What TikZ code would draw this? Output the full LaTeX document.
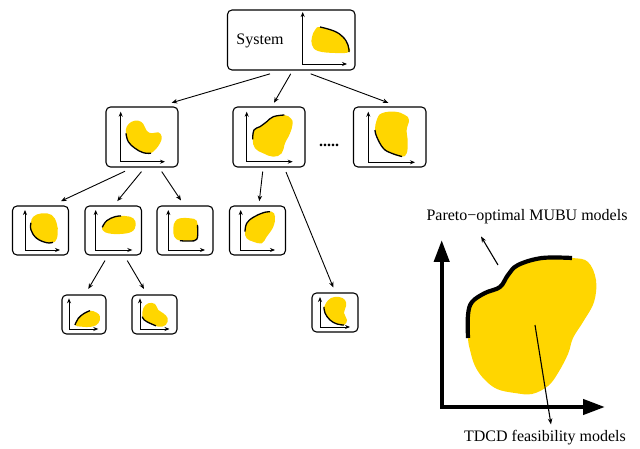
\documentclass[tikz,border=0pt]{standalone}
\usepackage{fontspec}
\setmainfont{Liberation Serif}
\usetikzlibrary{arrows.meta,calc}
\definecolor{blobgold}{RGB}{255,214,0}
\begin{document}
\begin{tikzpicture}[x=1pt,y=-1pt,
  panel/.style={draw,line width=1.1pt,rounded corners=4.5pt,inner sep=0pt},
  link/.style={line width=0.9pt,-{Stealth[length=5.5pt,width=4.5pt]}},
  miniaxes/.style={line width=0.9pt,{Stealth[length=5pt,width=4pt]}-{Stealth[length=5pt,width=4pt]}},
  region/.style={fill=blobgold},
  front/.style={line width=1.3pt,line cap=butt},
  label/.style={font=\fontsize{16}{19}\selectfont,inner sep=0pt},
  bigaxes/.style={line width=4.2pt,{Triangle[length=22pt,width=15pt]}-{Triangle[length=22pt,width=15pt]}},
  ]
\useasboundingbox (0,0) rectangle (640,449);

% ---------- panels ----------
\node[panel,minimum width=127.5pt,minimum height=60pt] (sys) at (291.25,40) {};
\node[label] (systxt) at (260,41) {System};

\node[panel,minimum width=72pt,minimum height=60pt] (b1) at (142,137) {};
\node[panel,minimum width=72pt,minimum height=60pt] (b2) at (269,137) {};
\node[panel,minimum width=72.5pt,minimum height=60pt] (b3) at (389.75,137) {};
\node[label,font=\fontsize{16}{19}\selectfont\bfseries] (more) at (329,145) {.....};

\node[panel,minimum width=56pt,minimum height=49pt] (c1) at (40.5,230.5) {};
\node[panel,minimum width=56.5pt,minimum height=49pt] (c2) at (113.25,230.5) {};
\node[panel,minimum width=56pt,minimum height=49pt] (c3) at (185,230.5) {};
\node[panel,minimum width=56pt,minimum height=49pt] (c4) at (257.5,230.5) {};

\node[panel,minimum width=44pt,minimum height=39pt] (d1) at (84,314.5) {};
\node[panel,minimum width=45pt,minimum height=39pt] (d2) at (154.5,314.5) {};
\node[panel,minimum width=46pt,minimum height=39pt] (d3) at (335,312.5) {};

% ---------- system panel contents ----------
\fill[region] plot[smooth cycle,tension=0.7] coordinates {(320,27) (334,31) (343,37) (348,45) (349,52) (335,53) (318,51) (312,45) (312,37) (315,30)};
\draw[front] plot[smooth,tension=0.7] coordinates {(320,27) (334,31) (343,37) (348,45) (349,52)};
\draw[miniaxes] (302.7,12) -- (302.7,64) -- (347,64);

% ---------- second row ----------
\fill[region] plot[smooth cycle,tension=0.7] coordinates {(126,133.3) (126.7,126.7) (131.7,121.7) (138.3,120.7) (143.3,124) (146.7,130.7) (151.7,133.3) (158.3,132.3) (161.7,136.7) (160,143.3) (155,150) (150,153.3) (143.3,152.7) (135,148.3) (128.3,141.7)};
\draw[front] plot[smooth,tension=0.7] coordinates {(126,133.3) (128.3,141.7) (135,148.3) (143.3,152.7) (151,153.3)};
\draw[miniaxes] (120.7,111.7) -- (120.7,161.7) -- (165,161.7);

\fill[region] plot[smooth cycle,tension=0.7] coordinates {(252.7,139.3) (254,130) (260,126.7) (266.7,121.7) (273.3,116.7) (284.3,115) (290.7,118.3) (292.7,123.3) (290,133.3) (285,143.3) (281.7,153.3) (273.3,156.7) (263.3,153.3) (255,148.3)};
\draw[front] plot[smooth,tension=0.7] coordinates {(252.7,139.3) (254,130) (260,126.7) (266.7,121.7) (273.3,116.7) (284.3,115)};
\draw[miniaxes] (246.7,111.7) -- (246.7,161.7) -- (292.7,161.7);

\fill[region] plot[smooth cycle,tension=0.7] coordinates {(376.7,120) (381.7,113.3) (395,111.7) (405,115) (409,120) (406.7,130) (407.7,141.7) (406.7,153.3) (401.7,156.7) (391.7,153.3) (383.3,148.3) (376.7,136.7) (375,130)};
\draw[front] plot[smooth,tension=0.7] coordinates {(375,130) (376.7,136.7) (383.3,148.3) (391.7,153.3) (402,156.5)};
\draw[miniaxes] (368.3,111.7) -- (368.3,162.3) -- (415,162.3);

% ---------- third row ----------
\fill[region] plot[smooth cycle,tension=0.7] coordinates {(33.3,216.7) (41.7,213.3) (51.7,215) (56.7,223.3) (57.7,233.3) (55,241.7) (46.7,242.7) (36.7,238.3) (31,230) (31,222.7)};
\draw[front] plot[smooth,tension=0.7] coordinates {(31,222.7) (31,230) (36.7,238.3) (46.7,242.7) (53,242.3)};
\draw[miniaxes] (25,210) -- (25,250) -- (60,250);

\fill[region] plot[smooth cycle,tension=0.7] coordinates {(102.3,227.3) (106.7,220.7) (115,216.7) (125,216) (133.3,218.3) (135.7,225) (131.7,231.7) (120,234) (108.3,233.3) (103.3,230.7)};
\draw[front] plot[smooth,tension=0.7] coordinates {(102.3,227.3) (106.7,220.7) (115,216.7) (121,215.9)};
\draw[miniaxes] (95.7,210) -- (95.7,250) -- (132.3,250);

\fill[region] plot[smooth cycle,tension=0.7] coordinates {(175,221.7) (180,218.3) (190,218.3) (196.7,220.7) (197.7,230) (196.7,239.3) (190,241) (180,240.7) (174.3,236.7) (173.3,228.3)};
\draw[front] plot[smooth,tension=0.7] coordinates {(180,240.7) (190,241) (196.7,239.3) (197.7,230) (197.4,225)};
\draw[miniaxes] (168.3,210) -- (168.3,250) -- (205,250);

\fill[region] plot[smooth cycle,tension=0.7] coordinates {(245,231.7) (246.7,223.3) (253.3,217.3) (263.3,212.7) (271.7,211.7) (275,216.7) (273.3,226.7) (266.7,236.7) (261.7,243.3) (253.3,241.7) (246.7,238.3)};
\draw[front] plot[smooth,tension=0.7] coordinates {(245,231.7) (246.7,223.3) (253.3,217.3) (263.3,212.7) (270,211.8)};
\draw[miniaxes] (240.7,210) -- (240.7,250) -- (275,250);

% ---------- fourth row ----------
\fill[region] plot[smooth cycle,tension=0.7] coordinates {(75,325) (78.3,318.3) (84.3,313.3) (90,310.7) (96.7,312.7) (100,316.7) (98.3,323.3) (91.7,326.7) (81.7,326.7)};
\draw[front] plot[smooth,tension=0.7] coordinates {(75,325) (78.3,318.3) (84.3,313.3) (90,310.7)};
\draw[miniaxes] (69,298.3) -- (69,329) -- (98.3,329);

\fill[region] plot[smooth cycle,tension=0.7] coordinates {(142.3,316.7) (143.3,308.3) (148.3,303.3) (155,304) (158.3,310) (163.3,313.3) (167.7,318.3) (165.7,325) (158.3,326.7) (150,323.3) (144.3,320)};
\draw[front] plot[smooth,tension=0.7] coordinates {(142.3,316.7) (144.3,320) (150,323.3) (156,325.8)};
\draw[miniaxes] (140,298.3) -- (140,329) -- (169.5,329);

\fill[region] plot[smooth cycle,tension=0.7] coordinates {(326,303) (331,298) (339,297) (345,300) (346,306) (344,313) (347,320) (344,325) (337,324) (330,320) (325,313) (324,307)};
\draw[front] plot[smooth,tension=0.7] coordinates {(324,307) (325,313) (330,320) (337,324) (344,325)};
\draw[miniaxes] (320,297) -- (320,327) -- (350,327);

% ---------- tree connectors ----------
\draw[link] ($(sys.south)+(-21.25,3.3)$) -- ($(b1.north)+(29.7,-3.7)$);
\draw[link] ($(sys.south)+(-0.55,3.3)$) -- ($(b2.north)+(5,-3.7)$);
\draw[link] ($(sys.south)+(19.45,3.3)$) -- ($(b3.north)+(-1.45,-3.7)$);

\draw[link] ($(b1.south)+(-17,3.7)$) -- ($(c1.north)+(20.5,-4.3)$);
\draw[link] ($(b1.south)+(-0.5,4)$) -- ($(c2.north)+(4,-4.3)$);
\draw[link] ($(b1.south)+(19.7,4)$) -- ($(c3.north)+(-4,-5)$);

\draw[link] ($(b2.south)+(-6.3,4)$) -- ($(c4.north)+(1.8,-4.3)$);
\draw[link] ($(b2.south)+(17,4.5)$) -- ($(d3.north)+(-1.7,-5)$);

\draw[link] ($(c2.south)+(-8.25,5)$) -- ($(d1.north)+(4.3,-5.5)$);
\draw[link] ($(c2.south)+(14,5)$) -- ($(d2.north)+(-10.5,-5.5)$);

% ---------- enlarged objective space ----------
\fill[region] plot[smooth cycle,tension=0.6] coordinates {(468,338) (468,315) (472,302) (485,293) (500,287) (508,275) (518,265) (542,258) (572,258) (588,262) (596,280) (594,302) (583,322) (573,338) (568,354) (558,373) (548,386) (532,394) (515,393) (497,389) (484,379) (475,366) (470,350)};
\draw[line width=4.2pt,line cap=butt] plot[smooth,tension=0.6] coordinates {(468,338) (468,315) (472,302) (485,293) (500,287) (508,275) (518,265) (542,258) (572,258)};
\draw[bigaxes] (441.7,240) -- (441.7,407) -- (605,407);

\node[label] (pareto) at (527,217) {Pareto−optimal MUBU models};
\node[label] (tdcd) at (545,438) {TDCD feasibility models};
\coordinate (pfront) at (498,265);
\coordinate (inner) at (535,325);
\draw[line width=1.1pt,-{Stealth[length=6pt,width=4.5pt]}] (pfront) -- ($(pareto.south)+(-46,12)$);
\draw[line width=1.1pt,-{Stealth[length=6pt,width=4.5pt]}] (inner) -- ($(tdcd.north)+(6,-6)$);
\end{tikzpicture}
\end{document}
